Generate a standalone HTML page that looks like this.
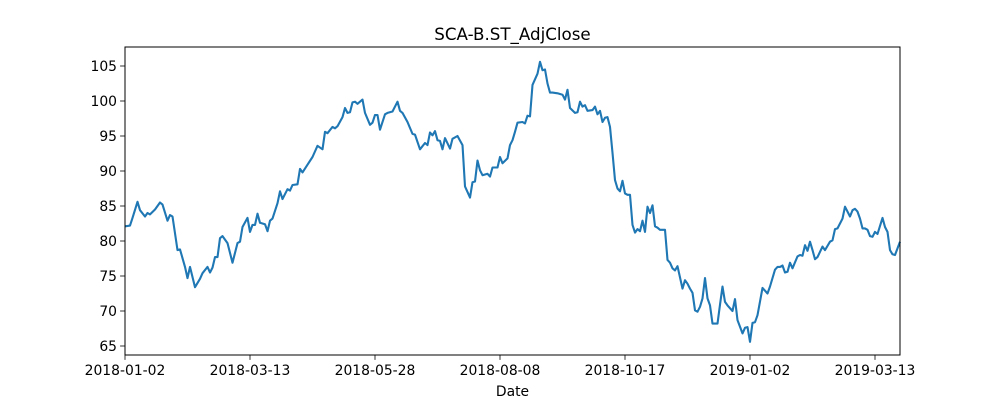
<!DOCTYPE html>
<html><head><meta charset="utf-8"><style>body{margin:0;background:#fff}svg{display:block}</style></head>
<body>
<svg id="chart" width="1000" height="400" xmlns="http://www.w3.org/2000/svg" font-family="'DejaVu Sans','Liberation Sans',sans-serif">
<rect width="1000" height="400" fill="#fff"/>
<text x="512.5" y="40" font-size="16.7" text-anchor="middle">SCA-B.ST_AdjClose</text>
<g id="plot"></g>
<rect x="125" y="47" width="775" height="308" fill="none" stroke="#000" stroke-width="1"/>
<text x="512.5" y="396" font-size="13.9" text-anchor="middle">Date</text>
</svg>
<script>
const dayIndex=[0,2,3,5,6,8,9,10,12,14,15,17,18,19,21,22,24,25,26,28,30,31,33,34,35,36,37,38,39,41,43,45,46,47,49,50,51,52,53,54,56,57,58,59,61,62,63,65,66,67,69,70,71,73,75,77,79,80,81,83,84,85,87,88,89,90,91,92,93,95,96,98,99,100,101,102,104,105,107,109,110,111,113,115,116,118,120,121,122,123,124,125,126,127,128,130,131,133,135,136,138,139,140,141,142,143,145,146,147,149,150,151,153,154,155,156,157,159,160,161,162,163,165,166,167,168,169,170,171,173,175,176,177,178,180,181,182,183,184,185,187,188,189,190,191,192,193,194,195,196,197,198,199,200,201,202,203,204,205,206,207,208,209,210,211,212,213,214,216,217,218,219,220,221,223,224,225,226,227,228,229,230,231,232,233,234,235,237,238,239,240,241,243,244,245,247,248,249,250,251,252,253,255,256,257,258,260,261,262,263,264,265,266,267,269,270,271,272,273,274,275,276,277,279,280,282,283,284,285,287,288,289,290,291,292,293,294,295,296,297,298,299,300,301,303,304,305,306,307,308,310];
const closeValues=[82.1,82.2,83.3,85.6,84.4,83.5,84,83.8,84.5,85.5,85.2,82.9,83.7,83.5,78.7,78.8,76.3,74.7,76.3,73.4,74.6,75.4,76.3,75.5,76.2,77.7,77.7,80.4,80.7,79.7,76.9,79.7,79.9,82,83.3,81.3,82.3,82.3,83.9,82.6,82.4,81.4,82.9,83.2,85.4,87.1,86,87.4,87.2,88,88.1,90.3,89.8,90.9,92,93.6,93.1,95.6,95.4,96.3,96.1,96.4,97.7,99,98.3,98.4,99.8,99.9,99.6,100.2,98.3,96.6,96.9,98,98,95.9,98.1,98.3,98.5,99.9,98.6,98.3,97,95.3,95.2,93.1,94,93.7,95.5,95.1,95.7,94.4,94.3,93.1,94.7,93.2,94.6,95,93.7,87.8,86.2,88.4,88.5,91.5,90.1,89.4,89.6,89.2,90.5,90.5,92,91.1,91.8,93.7,94.4,95.6,96.9,97,96.8,97.9,97.8,102.3,103.9,105.6,104.4,104.5,102.5,101.2,101.2,101.1,100.9,100.2,101.6,99,98.3,98.4,99.9,99.2,99.4,98.6,98.7,99.2,98.1,98.6,97,97.6,97.7,96.3,92.6,88.7,87.5,87.1,88.6,86.8,86.6,86.6,82.3,81.2,81.7,81.4,82.9,81.3,84.9,84,85.1,82.1,81.9,81.6,81.6,77.3,76.9,76.1,75.8,76.4,73.2,74.4,73.9,73.2,72.6,70.1,69.9,70.6,71.8,74.7,71.8,70.8,68.2,68.2,70.9,73.5,71.3,70.8,70,71.7,68.7,66.8,67.6,67.7,65.6,68.3,68.4,69.4,73.3,72.9,72.5,73.5,75.9,76.3,76.3,76.5,75.5,75.6,76.9,76.1,77.8,78,77.9,79.4,78.6,79.9,78.7,77.4,77.7,79.2,78.7,79.9,80.1,81.7,81.8,83.2,84.9,84.2,83.5,84.4,84.6,84.2,83.2,81.8,81.8,81.6,80.7,80.6,81.3,81,83.3,82,81.3,78.7,78.1,78,79.9];
const xTickDays=[0,50,100,150,200,250,300];
const xTickLabels=["2018-01-02","2018-03-13","2018-05-28","2018-08-08","2018-10-17","2019-01-02","2019-03-13"];
const yTickValues=[65,70,75,80,85,90,95,100,105];

const NS="http://www.w3.org/2000/svg";
const L=125,R=900,T=47,B=355;
const xScale=d=>L+(d-0)/(310-0)*(R-L);
const yScale=v=>346-(v-65)*7;
const g=document.getElementById('plot');
function mk(tag,attrs){const e=document.createElementNS(NS,tag);for(const k in attrs)e.setAttribute(k,attrs[k]);return e;}

let d='';
dayIndex.forEach((di,i)=>{d+=(i?'L':'M')+xScale(di).toFixed(2)+','+yScale(closeValues[i]).toFixed(2);});
const line=mk('path',{d:d,fill:'none',stroke:'#1f77b4','stroke-width':2.1,'stroke-linejoin':'round'});


g.appendChild(line);

xTickDays.forEach((t,i)=>{
  const x=xScale(t);
  const tk=mk('line',{x1:x,x2:x,y1:B,y2:B+4.9,stroke:'#000','stroke-width':0.8});
  
  
  g.appendChild(tk);
  const tx=mk('text',{x:x,y:B+20,'font-size':13.9,'text-anchor':'middle'});
  tx.textContent=xTickLabels[i];
  
  
  g.appendChild(tx);
});
yTickValues.forEach(v=>{
  const y=yScale(v);
  const tk=mk('line',{x1:L-4.9,x2:L,y1:y,y2:y,stroke:'#000','stroke-width':0.8});
  
  
  g.appendChild(tk);
  const tx=mk('text',{x:L-8,y:y+5,'font-size':13.9,'text-anchor':'end'});
  tx.textContent=v;
  
  
  g.appendChild(tx);
});
</script>
</body></html>
